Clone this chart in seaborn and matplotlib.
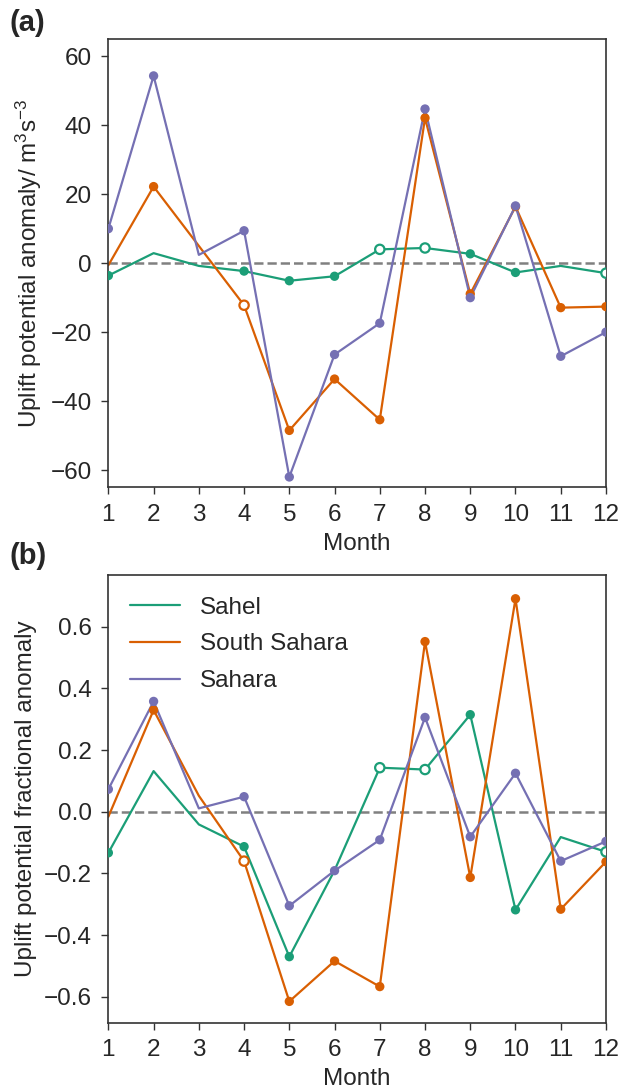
import numpy as np
import pandas as pd
import matplotlib
matplotlib.use("Agg")
import matplotlib.pyplot as plt
import seaborn as sns

months = list(range(1, 13))
regions = ["Sahel", "South Sahara", "Sahara"]

# Panel (a): uplift potential anomaly (m^3 s^-3)
sahel_a = [-3.6, 2.9, -0.8, -2.3, -5.1, -3.8, 4.0, 4.4, 2.7, -2.7, -0.8, -2.9]
ssahara_a = [-0.6, 22.2, 5.0, -12.2, -48.5, -33.6, -45.4, 42.1, -8.9, 16.4, -12.9, -12.6]
sahara_a = [10.0, 54.3, 2.4, 9.4, -62.0, -26.5, -17.4, 44.7, -10.0, 16.6, -27.0, -20.0]

# Panel (b): uplift potential fractional anomaly
sahel_b = [-0.133, 0.132, -0.041, -0.113, -0.470, -0.19, 0.143, 0.137, 0.315, -0.318, -0.082, -0.130]
ssahara_b = [-0.016, 0.330, 0.052, -0.160, -0.615, -0.484, -0.567, 0.552, -0.213, 0.691, -0.316, -0.162]
sahara_b = [0.073, 0.358, 0.011, 0.049, -0.305, -0.191, -0.091, 0.306, -0.081, 0.125, -0.160, -0.096]

# Marker type per point: f = filled, o = open, n = none
sahel_a_mk = ["f", "n", "n", "f", "f", "f", "o", "o", "f", "f", "n", "o"]
ssahara_a_mk = ["n", "f", "n", "o", "f", "f", "f", "f", "f", "f", "f", "f"]
sahara_a_mk = ["f", "f", "n", "f", "f", "f", "f", "f", "f", "f", "f", "f"]
sahel_b_mk = ["f", "n", "n", "f", "f", "n", "o", "o", "f", "f", "n", "o"]
ssahara_b_mk = ["n", "f", "n", "o", "f", "f", "f", "f", "f", "f", "f", "f"]
sahara_b_mk = ["f", "f", "n", "f", "f", "f", "f", "f", "f", "f", "f", "f"]


def build(vals, mks):
    rows = []
    for reg, v, m in zip(regions, vals, mks):
        for mo, y, k in zip(months, v, m):
            rows.append({"Month": mo, "Region": reg, "value": y, "mk": k})
    return pd.DataFrame(rows)


df_a = build([sahel_a, ssahara_a, sahara_a], [sahel_a_mk, ssahara_a_mk, sahara_a_mk])
df_b = build([sahel_b, ssahara_b, sahara_b], [sahel_b_mk, ssahara_b_mk, sahara_b_mk])

sns.set_theme(style="ticks")
plt.rcParams["font.family"] = ["Liberation Sans", "DejaVu Sans"]
plt.rcParams["mathtext.fontset"] = "custom"
plt.rcParams["mathtext.rm"] = "Liberation Sans"
plt.rcParams["mathtext.it"] = "Liberation Sans"

FS = 17.5
pal = dict(zip(regions, sns.color_palette("Dark2", 3)))

fig = plt.figure(figsize=(6.21, 10.89), dpi=100)
ax_a = fig.add_axes([0.1745, 0.5525, 0.8013, 0.4117])
ax_b = fig.add_axes([0.1745, 0.0609, 0.8013, 0.4111])


def draw(ax, df, legend):
    ax.axhline(0, color="grey", ls="--", lw=1.8, zorder=1)
    sns.lineplot(data=df, x="Month", y="value", hue="Region", palette=pal,
                 hue_order=regions, sort=False, lw=1.6, ax=ax, legend=legend,
                 zorder=2)
    filled = df[df["mk"] == "f"]
    sns.scatterplot(data=filled, x="Month", y="value", hue="Region", palette=pal,
                    hue_order=regions, s=45, linewidth=0, ax=ax, legend=False,
                    zorder=3)
    opn = df[df["mk"] == "o"]
    sns.scatterplot(data=opn, x="Month", y="value", hue="Region", palette=pal,
                    hue_order=regions, s=45, linewidth=1.6, ax=ax, legend=False,
                    zorder=4)
    coll = ax.collections[-1]
    fcs = coll.get_facecolors()
    coll.set_edgecolors(fcs)
    coll.set_facecolors("white")
    ax.set_xlim(1, 12)
    ax.set_xticks(months)
    ax.set_xlabel("Month", fontsize=FS, labelpad=5)
    ax.tick_params(labelsize=FS, length=5, width=1, pad=7, color="#333333")
    for s in ax.spines.values():
        s.set_color("#333333")
        s.set_linewidth(1.2)


draw(ax_a, df_a, False)
ax_a.set_ylim(-65, 65)
ax_a.set_yticks([-60, -40, -20, 0, 20, 40, 60])
ax_a.set_ylabel("Uplift potential anomaly/ m$^3$s$^{-3}$", fontsize=FS, labelpad=5)

draw(ax_b, df_b, True)
ax_b.set_ylim(-0.684, 0.768)
ax_b.set_yticks([-0.6, -0.4, -0.2, 0.0, 0.2, 0.4, 0.6])
ax_b.set_yticklabels(["\u22120.6", "\u22120.4", "\u22120.2", "0.0", "0.2", "0.4", "0.6"])
ax_b.set_ylabel("Uplift potential fractional anomaly", fontsize=FS, labelpad=5)
leg = ax_b.legend(loc="upper left", frameon=False, fontsize=FS,
                  handlelength=2.05, handletextpad=0.8, labelspacing=0.6,
                  borderaxespad=0.5, bbox_to_anchor=(0.0, 1.0))
for h in leg.get_lines():
    h.set_linewidth(1.6)

fig.text(0.015, 0.9789, "(a)", fontsize=21, fontweight="bold", va="center")
fig.text(0.015, 0.4894, "(b)", fontsize=21, fontweight="bold", va="center")

fig.savefig("out.png", dpi=100)
